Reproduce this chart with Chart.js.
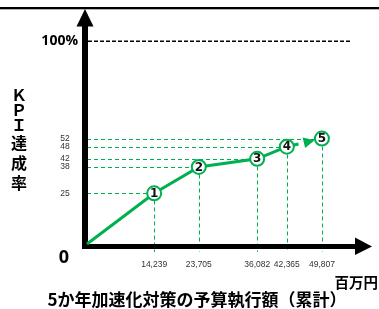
<!DOCTYPE html>
<html>
<head>
<meta charset="utf-8">
<script src="https://cdn.jsdelivr.net/npm/chart.js@4/dist/chart.umd.min.js"></script>
<style>
  html, body { margin: 0; padding: 0; background: #ffffff; }
  #wrap { width: 379px; height: 309px; position: relative; }
</style>
</head>
<body>
<div id="wrap"><canvas id="c" width="379" height="309"></canvas></div>
<script>
// ---- data ----
const pointLabels = ['1', '2', '3', '4', '5'];
const budget = [14239, 23705, 36082, 42365, 49807];       // 百万円 (cumulative)
const kpi = [25, 38, 42, 48, 52];                          // KPI達成率
const xTickLabels = ['14,239', '23,705', '36,082', '42,365', '49,807'];
const yTickLabels = ['25', '38', '42', '48', '52'];
const targetKpi = 100;
const targetLabel = '100%';
const originLabel = '0';
const yTitleChars = ['Ｋ', 'Ｐ', 'Ｉ', '達', '成', '率'];
const xUnit = '百万円';
const xTitle = '5か年加速化対策の予算執行額（累計）';

const GREEN = '#00B050';
const JP = '"Noto Sans CJK JP", "Noto Sans", sans-serif';
const NUM = '"Open Sans", "Noto Sans", sans-serif';
const SMALL = '"Liberation Sans", "DejaVu Sans", sans-serif';
const CIRC = '"DejaVu Sans", "Liberation Sans", sans-serif';

// solid part: origin -> points 1..4 ; dashed part: point 4 -> point 5
const solidData = [{ x: 0, y: 0 }].concat(budget.slice(0, 4).map((b, i) => ({ x: b, y: kpi[i] })));
const dashedData = [3, 4].map(i => ({ x: budget[i], y: kpi[i] }));

const decor = {
  id: 'decor',
  beforeDatasetsDraw(chart) {
    const { ctx, scales: { x, y } } = chart;
    ctx.save();
    // top rule
    ctx.fillStyle = '#000';
    ctx.fillRect(0, 7, 379, 2.3);

    // 100% dashed line
    const y100 = y.getPixelForValue(targetKpi);
    ctx.strokeStyle = '#000';
    ctx.lineWidth = 1.3;
    ctx.setLineDash([4, 2]);
    ctx.beginPath();
    ctx.moveTo(88, y100);
    ctx.lineTo(352, y100);
    ctx.stroke();

    // green guide lines
    ctx.strokeStyle = GREEN;
    ctx.lineWidth = 1;
    ctx.setLineDash([4, 3]);
    const x0 = x.getPixelForValue(0);
    const yBase = y.getPixelForValue(0);
    budget.forEach((b, i) => {
      const px = Math.round(x.getPixelForValue(b)) + 0.5;
      const py = Math.round(y.getPixelForValue(kpi[i])) + 0.5;
      ctx.beginPath();
      ctx.moveTo(x0, py);
      ctx.lineTo(px, py);
      ctx.stroke();
      ctx.beginPath();
      ctx.moveTo(px, py);
      ctx.lineTo(px, yBase + 8);
      ctx.stroke();
    });
    ctx.setLineDash([]);

    // axes with arrows
    ctx.fillStyle = '#000';
    ctx.fillRect(x0 - 5, 25, 6, yBase + 5 - 25);
    ctx.beginPath();
    ctx.moveTo(x0 - 2, 9);
    ctx.lineTo(x0 - 10.5, 26.5);
    ctx.lineTo(x0 + 6.5, 26.5);
    ctx.closePath();
    ctx.fill();
    ctx.fillRect(x0 - 5, yBase, 361 - (x0 - 5), 5);
    ctx.beginPath();
    ctx.moveTo(355, yBase - 6.5);
    ctx.lineTo(372, yBase + 2.5);
    ctx.lineTo(355, yBase + 11);
    ctx.closePath();
    ctx.fill();

    // texts
    ctx.fillStyle = '#000';
    ctx.textBaseline = 'middle';
    ctx.textAlign = 'right';
    ctx.font = 'bold 14px ' + NUM;
    ctx.fillText(targetLabel, 78, y100);

    ctx.textAlign = 'center';
    ctx.font = 'bold 18px ' + NUM;
    ctx.fillText(originLabel, 64, 258);

    ctx.fillStyle = '#333';
    ctx.font = '8.5px ' + SMALL;
    ctx.textAlign = 'center';
    kpi.forEach((v, i) => {
      ctx.fillText(yTickLabels[i], 65, y.getPixelForValue(v));
    });
    budget.forEach((b, i) => {
      ctx.fillText(xTickLabels[i], x.getPixelForValue(b), 265);
    });

    ctx.fillStyle = '#000';
    ctx.font = 'bold 16px ' + JP;
    const ys = [95, 110, 125, 143, 163, 183];
    yTitleChars.forEach((ch, i) => ctx.fillText(ch, 19, ys[i]));

    ctx.textAlign = 'right';
    ctx.font = 'bold 14.5px ' + JP;
    ctx.fillText(xUnit, 378, 282);

    ctx.textAlign = 'center';
    ctx.font = 'bold 17px ' + JP;
    ctx.fillText(xTitle, 197, 300);
    ctx.restore();
  },
  afterDatasetsDraw(chart) {
    const { ctx, scales: { x, y } } = chart;
    ctx.save();
    // arrow head on the dashed projection toward point 5
    const ax = x.getPixelForValue(budget[3]), ay = y.getPixelForValue(kpi[3]);
    const bx = x.getPixelForValue(budget[4]), by = y.getPixelForValue(kpi[4]);
    const len = Math.hypot(bx - ax, by - ay);
    const ux = (bx - ax) / len, uy = (by - ay) / len;
    const tipX = bx - ux * 7.5, tipY = by - uy * 7.5;
    const baseX = tipX - ux * 11, baseY = tipY - uy * 11;
    ctx.fillStyle = GREEN;
    ctx.beginPath();
    ctx.moveTo(tipX, tipY);
    ctx.lineTo(baseX - uy * 5.5, baseY + ux * 5.5);
    ctx.lineTo(baseX + uy * 5.5, baseY - ux * 5.5);
    ctx.closePath();
    ctx.fill();

    // numbers in circles
    ctx.fillStyle = '#111';
    ctx.font = 'bold 12px ' + CIRC;
    ctx.textAlign = 'center';
    ctx.textBaseline = 'middle';
    budget.forEach((b, i) => {
      ctx.fillText(pointLabels[i], x.getPixelForValue(b), y.getPixelForValue(kpi[i]) + 0.5);
    });
    ctx.restore();
  }
};

new Chart(document.getElementById('c'), {
  type: 'line',
  data: {
    datasets: [
      {
        data: solidData,
        borderColor: GREEN,
        borderWidth: 3,
        pointRadius: ctx => (ctx.dataIndex === 0 ? 0 : 7),
        pointBackgroundColor: '#fff',
        pointBorderColor: GREEN,
        pointBorderWidth: 2,
        tension: 0,
        clip: false
      },
      {
        data: dashedData,
        borderColor: GREEN,
        borderWidth: 3,
        borderDash: [8, 6],
        borderDashOffset: 10,
        pointRadius: [0, 7],
        pointBackgroundColor: '#fff',
        pointBorderColor: GREEN,
        pointBorderWidth: 2,
        tension: 0,
        clip: false
      }
    ]
  },
  options: {
    responsive: false,
    devicePixelRatio: 1,
    animation: false,
    events: [],
    layout: { padding: { left: 87, right: 6, top: 21, bottom: 65 } },
    plugins: { legend: { display: false }, tooltip: { enabled: false }, title: { display: false } },
    scales: {
      x: { type: 'linear', display: false, min: 0, max: 60000 },
      y: { type: 'linear', display: false, min: 0, max: 110 }
    }
  },
  plugins: [decor]
});
</script>
</body>
</html>
